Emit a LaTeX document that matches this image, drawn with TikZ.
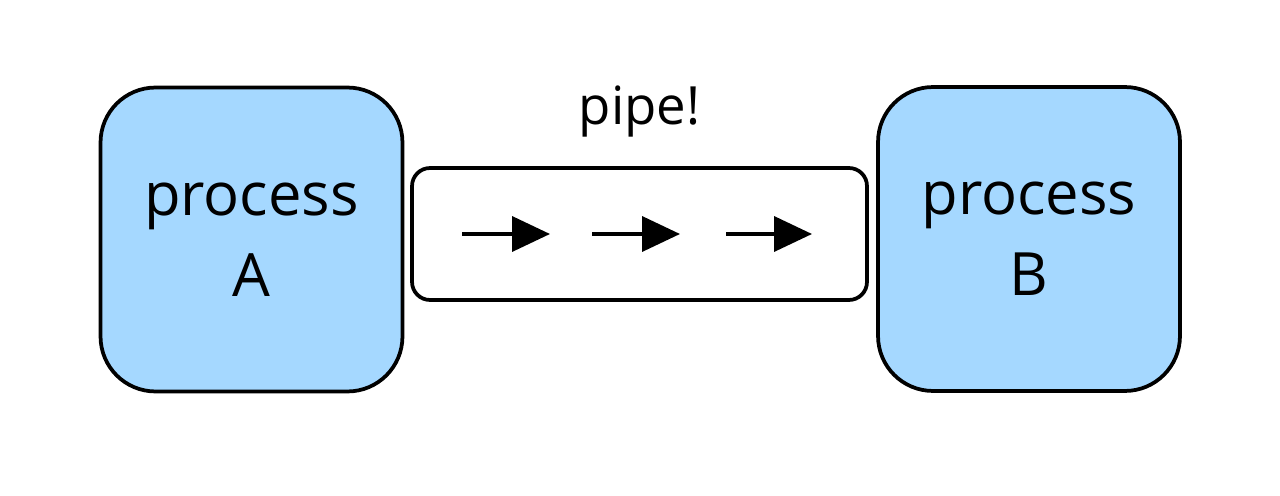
\documentclass[tikz,border=0pt]{standalone}
\usepackage{fontspec}
\setmainfont{Open Sans}
\usepackage{xcolor}
\usetikzlibrary{arrows.meta,positioning}
\definecolor{procblue}{HTML}{A5D8FF}
\tikzset{
  proceso/.style={draw=black,fill=procblue,line width=0.075cm,rounded corners=1.1cm,
    minimum width=6.04cm,minimum height=6.08cm,align=center,
    font=\fontsize{34}{46}\selectfont},
  tubo/.style={draw=black,fill=white,line width=0.075cm,rounded corners=0.36cm,
    minimum width=9.1cm,minimum height=2.64cm},
  flujo/.style={-{Triangle[length=0.76cm,width=0.7cm]},line width=0.075cm},
  rotulo/.style={font=\fontsize{30}{36}\selectfont}
}
\begin{document}
\begin{tikzpicture}[x=0.02cm,y=-0.02cm]
\useasboundingbox (0,0) rectangle (1280,496);
\node[proceso] (procA) at (251.5,239.5) {process\\A};
\node[proceso] (procB) at (1029,239) {process\\B};
\node[tubo] (pipe) at (639.5,234) {};
\node[rotulo,above=0.45cm of pipe] (pipelbl) {pipe!};
% flechas dentro del tubo
\foreach \i/\xa/\xb in {1/462/550,2/592/680,3/726/812}{
  \coordinate (s\i) at (\xa,234);
  \coordinate (e\i) at (\xb,234);
  \draw[flujo] (s\i) -- (e\i);
}
\end{tikzpicture}
\end{document}
